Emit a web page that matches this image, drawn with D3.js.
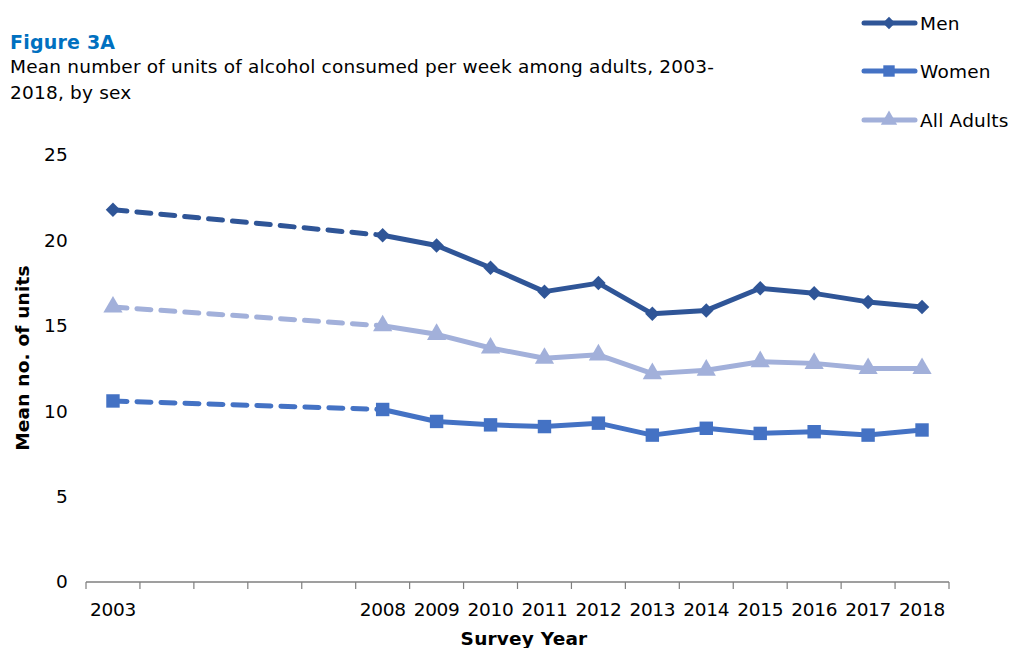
<!DOCTYPE html>
<html><head><meta charset="utf-8">
<script src="https://cdn.jsdelivr.net/npm/d3@7"></script>
<style>body{margin:0;background:#fff}svg{display:block}text{font-family:"DejaVu Sans",sans-serif;letter-spacing:0.2px}.xax text{letter-spacing:-0.3px}</style>
</head><body><svg id="c" width="1010" height="648"></svg>
<script>
const years = ["2003","2004","2005","2006","2007","2008","2009","2010","2011","2012","2013","2014","2015","2016","2017","2018"];
const yearLabels = ["2003","","","","","2008","2009","2010","2011","2012","2013","2014","2015","2016","2017","2018"];
const men =    [21.8,null,null,null,null,20.3,19.7,18.4,17.0,17.5,15.7,15.9,17.2,16.9,16.4,16.1];
const women =  [10.6,null,null,null,null,10.1,9.4,9.2,9.1,9.3,8.6,9.0,8.7,8.8,8.6,8.9];
const all =    [16.1,null,null,null,null,15.0,14.5,13.7,13.1,13.3,12.2,12.4,12.9,12.8,12.5,12.5];
const yTicks = [0,5,10,15,20,25];
const seriesNames = ["Men","Women","All Adults"];
const colors = ["#2F5597","#4472C4","#A2B0DA"];

const svg = d3.select("#c");
const x = d3.scaleBand().domain(years).range([86, 949]);
const y = d3.scaleLinear().domain([0,25]).range([582, 155]);
const cx = d => x(d) + x.bandwidth()/2;
const FS = 18.5;

const symPaths = [
  d3.symbol().type(d3.symbolSquare).size(105)(),
  d3.symbol().type(d3.symbolSquare).size(180)(),
  d3.symbol().type(d3.symbolTriangle).size(160)()
];
const symRot = [45,0,0];

// titles
svg.append("text").attr("x",10).attr("y",49).attr("font-size",19).attr("font-weight","bold").attr("fill","#0070C0").text("Figure 3A");
svg.append("text").attr("x",10).attr("y",73).attr("font-size",FS).attr("fill","#000").text("Mean number of units of alcohol consumed per week among adults, 2003-");
svg.append("text").attr("x",10).attr("y",99).attr("font-size",FS).attr("fill","#000").text("2018, by sex");

// x axis
const xAxis = d3.axisBottom(x).tickSize(0).tickFormat((d,i)=>yearLabels[i]);
const gx = svg.append("g").attr("class","xax").attr("transform","translate(0,582)").call(xAxis);
gx.select(".domain").attr("stroke","#7f7f7f").attr("stroke-width",1.5).attr("d","M86,0H949");
gx.selectAll("text").attr("font-size",FS).attr("fill","#000").attr("dy","1.65em").attr("font-family",null);
const bounds = years.map(d=>x(d)).concat([x(years[years.length-1])+x.bandwidth()]);
gx.selectAll("line.b").data(bounds).enter().append("line").attr("class","b")
  .attr("x1",d=>d).attr("x2",d=>d).attr("y1",0).attr("y2",7).attr("stroke","#7f7f7f").attr("stroke-width",1.2);

// y axis labels
const gy = svg.append("g").attr("transform","translate(68,0)").call(d3.axisLeft(y).tickValues(yTicks).tickSize(0).tickPadding(0));
gy.select(".domain").remove();
gy.selectAll("text").attr("font-size",FS).attr("fill","#000").attr("font-family",null);

// axis titles
svg.append("text").attr("transform","translate(29,358) rotate(-90)").attr("text-anchor","middle").attr("font-size",FS).attr("font-weight","bold").text("Mean no. of units");
svg.append("text").attr("x",524).attr("y",645).attr("text-anchor","middle").attr("font-size",FS).attr("font-weight","bold").text("Survey Year");

// series
const data = [men, women, all];
[2,1,0].forEach(si=>{
  const vals = data[si];
  const pts = years.map((yr,i)=>({yr, v: vals[i]})).filter(p=>p.v!=null);
  const line = d3.line().x(p=>cx(p.yr)).y(p=>y(p.v));
  svg.append("path").attr("d", line(pts.slice(0,2))).attr("fill","none").attr("stroke",colors[si])
    .attr("stroke-width",5).attr("stroke-dasharray","14,10").attr("stroke-linecap","round");
  svg.append("path").attr("d", line(pts.slice(1))).attr("fill","none").attr("stroke",colors[si])
    .attr("stroke-width",5).attr("stroke-linejoin","round");
  svg.selectAll(null).data(pts).enter().append("path")
    .attr("d", symPaths[si])
    .attr("transform", p=>`translate(${cx(p.yr)},${y(p.v)}) rotate(${symRot[si]})`).attr("fill",colors[si]);
});

// legend
const ly = [23,71,120];
seriesNames.forEach((n,i)=>{
  const g = svg.append("g");
  g.append("line").attr("x1",864).attr("x2",915).attr("y1",ly[i]).attr("y2",ly[i]).attr("stroke",colors[i]).attr("stroke-width",5).attr("stroke-linecap","round");
  g.append("path").attr("d", symPaths[i]).attr("transform",`translate(889,${ly[i]}) rotate(${symRot[i]}) scale(0.85)`).attr("fill",colors[i]);
  g.append("text").attr("x",920).attr("y",ly[i]+7).attr("font-size",FS).text(n);
});
</script></body></html>
